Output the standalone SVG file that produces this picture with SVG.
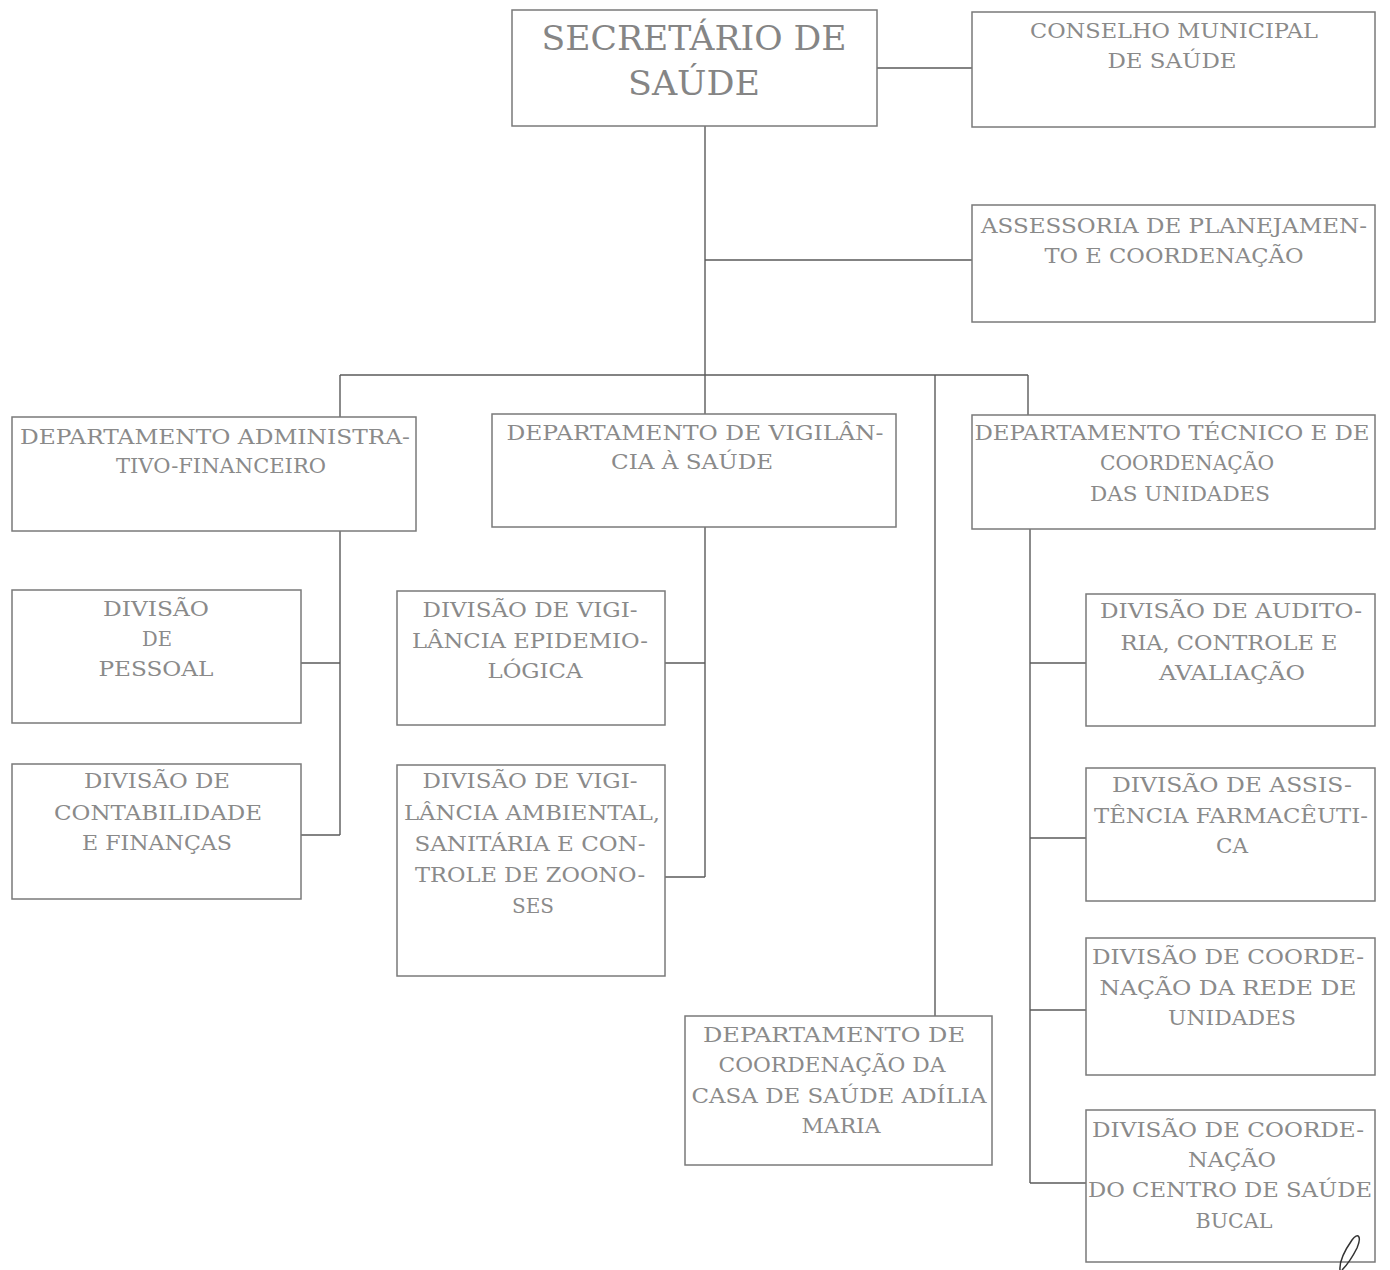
<svg xmlns="http://www.w3.org/2000/svg" width="1390" height="1270" viewBox="0 0 1390 1270">
<style>
.box{fill:#fff;stroke:#7a7a7a;stroke-width:1.5}
.t{font-family:"DejaVu Serif","Liberation Serif",serif;font-size:21px;fill:#8a8a8a;text-anchor:middle}
.big{font-size:34px;fill:#858585}
.c{fill:none;stroke:#5a5a5a;stroke-width:1.4}
</style>
<rect width="1390" height="1270" fill="#fff"/>
<g id="connectors">
<path class="c" d="M877 68H972"/>
<path class="c" d="M705 126V414"/>
<path class="c" d="M705 260H972"/>
<path class="c" d="M340 375H1028"/>
<path class="c" d="M340 375V417"/>
<path class="c" d="M1028 375V415"/>
<path class="c" d="M935 375V1016"/>
<path class="c" d="M340 531V835"/>
<path class="c" d="M301 663H340"/>
<path class="c" d="M301 835H340"/>
<path class="c" d="M705 527V877"/>
<path class="c" d="M665 663H705"/>
<path class="c" d="M665 877H705"/>
<path class="c" d="M1030 529V1183"/>
<path class="c" d="M1030 663H1086"/>
<path class="c" d="M1030 838H1086"/>
<path class="c" d="M1030 1010H1086"/>
<path class="c" d="M1030 1183H1086"/>
</g>
<g id="secretario">
<rect class="box" x="512" y="10" width="365" height="116"/>
<text class="t big" x="694" y="50" textLength="305" lengthAdjust="spacingAndGlyphs">SECRETÁRIO DE</text>
<text class="t big" x="694" y="95" textLength="132" lengthAdjust="spacingAndGlyphs">SAÚDE</text>
</g>
<g id="conselho">
<rect class="box" x="972" y="12" width="403" height="115"/>
<text class="t" x="1174" y="38" textLength="288" lengthAdjust="spacingAndGlyphs">CONSELHO MUNICIPAL</text>
<text class="t" x="1172" y="68" textLength="129" lengthAdjust="spacingAndGlyphs">DE SAÚDE</text>
</g>
<g id="assessoria">
<rect class="box" x="972" y="205" width="403" height="117"/>
<text class="t" x="1174" y="233" textLength="386" lengthAdjust="spacingAndGlyphs">ASSESSORIA DE PLANEJAMEN-</text>
<text class="t" x="1174" y="263" textLength="259" lengthAdjust="spacingAndGlyphs">TO E COORDENAÇÃO</text>
</g>
<g id="dep-adm">
<rect class="box" x="12" y="417" width="404" height="114"/>
<text class="t" x="215" y="444" textLength="390" lengthAdjust="spacingAndGlyphs">DEPARTAMENTO ADMINISTRA-</text>
<text class="t" x="221" y="473" textLength="210" lengthAdjust="spacingAndGlyphs">TIVO-FINANCEIRO</text>
</g>
<g id="dep-vig">
<rect class="box" x="492" y="414" width="404" height="113"/>
<text class="t" x="695" y="440" textLength="377" lengthAdjust="spacingAndGlyphs">DEPARTAMENTO DE VIGILÂN-</text>
<text class="t" x="692" y="469" textLength="162" lengthAdjust="spacingAndGlyphs">CIA À SAÚDE</text>
</g>
<g id="dep-tec">
<rect class="box" x="972" y="415" width="403" height="114"/>
<text class="t" x="1172" y="440" textLength="395" lengthAdjust="spacingAndGlyphs">DEPARTAMENTO TÉCNICO E DE</text>
<text class="t" x="1187" y="470" textLength="174" lengthAdjust="spacingAndGlyphs">COORDENAÇÃO</text>
<text class="t" x="1180" y="501" textLength="180" lengthAdjust="spacingAndGlyphs">DAS UNIDADES</text>
</g>
<g id="div-pessoal">
<rect class="box" x="12" y="590" width="289" height="133"/>
<text class="t" x="156" y="616" textLength="106" lengthAdjust="spacingAndGlyphs">DIVISÃO</text>
<text class="t" x="157" y="646" textLength="30" lengthAdjust="spacingAndGlyphs">DE</text>
<text class="t" x="156" y="676" textLength="115" lengthAdjust="spacingAndGlyphs">PESSOAL</text>
</g>
<g id="div-contab">
<rect class="box" x="12" y="764" width="289" height="135"/>
<text class="t" x="157" y="788" textLength="146" lengthAdjust="spacingAndGlyphs">DIVISÃO DE</text>
<text class="t" x="158" y="820" textLength="208" lengthAdjust="spacingAndGlyphs">CONTABILIDADE</text>
<text class="t" x="157" y="850" textLength="150" lengthAdjust="spacingAndGlyphs">E FINANÇAS</text>
</g>
<g id="div-epi">
<rect class="box" x="397" y="591" width="268" height="134"/>
<text class="t" x="530" y="617" textLength="215" lengthAdjust="spacingAndGlyphs">DIVISÃO DE VIGI-</text>
<text class="t" x="530" y="648" textLength="236" lengthAdjust="spacingAndGlyphs">LÂNCIA EPIDEMIO-</text>
<text class="t" x="535" y="678" textLength="95" lengthAdjust="spacingAndGlyphs">LÓGICA</text>
</g>
<g id="div-amb">
<rect class="box" x="397" y="765" width="268" height="211"/>
<text class="t" x="530" y="788" textLength="215" lengthAdjust="spacingAndGlyphs">DIVISÃO DE VIGI-</text>
<text class="t" x="532" y="820" textLength="256" lengthAdjust="spacingAndGlyphs">LÂNCIA AMBIENTAL,</text>
<text class="t" x="530" y="851" textLength="231" lengthAdjust="spacingAndGlyphs">SANITÁRIA E CON-</text>
<text class="t" x="530" y="882" textLength="230" lengthAdjust="spacingAndGlyphs">TROLE DE ZOONO-</text>
<text class="t" x="533" y="913" textLength="42" lengthAdjust="spacingAndGlyphs">SES</text>
</g>
<g id="dep-casa">
<rect class="box" x="685" y="1016" width="307" height="149"/>
<text class="t" x="834" y="1042" textLength="262" lengthAdjust="spacingAndGlyphs">DEPARTAMENTO DE</text>
<text class="t" x="832" y="1072" textLength="227" lengthAdjust="spacingAndGlyphs">COORDENAÇÃO DA</text>
<text class="t" x="839" y="1103" textLength="295" lengthAdjust="spacingAndGlyphs">CASA DE SAÚDE ADÍLIA</text>
<text class="t" x="841" y="1133" textLength="79" lengthAdjust="spacingAndGlyphs">MARIA</text>
</g>
<g id="div-auditoria">
<rect class="box" x="1086" y="594" width="289" height="132"/>
<text class="t" x="1231" y="618" textLength="262" lengthAdjust="spacingAndGlyphs">DIVISÃO DE AUDITO-</text>
<text class="t" x="1229" y="650" textLength="217" lengthAdjust="spacingAndGlyphs">RIA, CONTROLE E</text>
<text class="t" x="1232" y="680" textLength="146" lengthAdjust="spacingAndGlyphs">AVALIAÇÃO</text>
</g>
<g id="div-farm">
<rect class="box" x="1086" y="768" width="289" height="133"/>
<text class="t" x="1232" y="792" textLength="240" lengthAdjust="spacingAndGlyphs">DIVISÃO DE ASSIS-</text>
<text class="t" x="1231" y="823" textLength="274" lengthAdjust="spacingAndGlyphs">TÊNCIA FARMACÊUTI-</text>
<text class="t" x="1232" y="853" textLength="32" lengthAdjust="spacingAndGlyphs">CA</text>
</g>
<g id="div-rede">
<rect class="box" x="1086" y="938" width="289" height="137"/>
<text class="t" x="1228" y="964" textLength="272" lengthAdjust="spacingAndGlyphs">DIVISÃO DE COORDE-</text>
<text class="t" x="1228" y="995" textLength="257" lengthAdjust="spacingAndGlyphs">NAÇÃO DA REDE DE</text>
<text class="t" x="1232" y="1025" textLength="128" lengthAdjust="spacingAndGlyphs">UNIDADES</text>
</g>
<g id="div-bucal">
<rect class="box" x="1086" y="1110" width="289" height="152"/>
<text class="t" x="1228" y="1137" textLength="272" lengthAdjust="spacingAndGlyphs">DIVISÃO DE COORDE-</text>
<text class="t" x="1232" y="1167" textLength="88" lengthAdjust="spacingAndGlyphs">NAÇÃO</text>
<text class="t" x="1230" y="1197" textLength="284" lengthAdjust="spacingAndGlyphs">DO CENTRO DE SAÚDE</text>
<text class="t" x="1234" y="1228" textLength="77" lengthAdjust="spacingAndGlyphs">BUCAL</text>
</g>
<path d="M1340 1270C1339 1260 1345 1250 1352 1240C1358 1232 1362 1236 1357 1248C1352 1258 1346 1266 1342 1270" fill="none" stroke="#333" stroke-width="1.5"/>
</svg>
